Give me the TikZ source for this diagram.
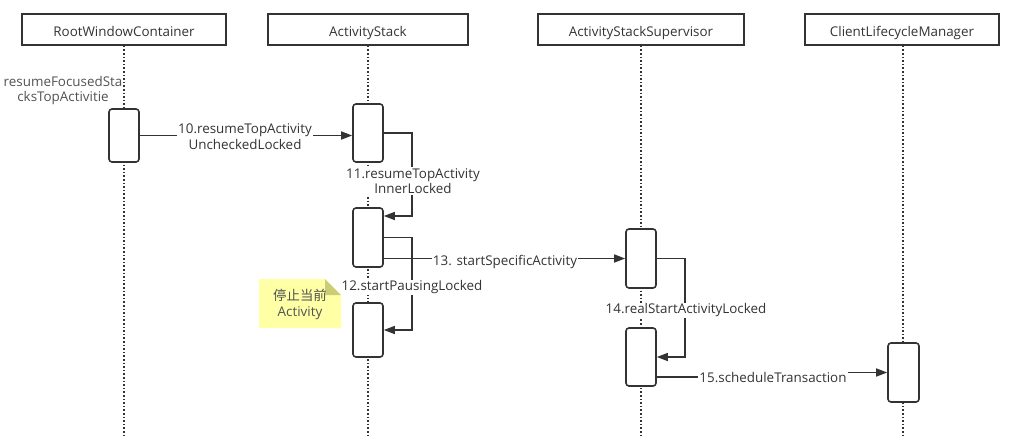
\documentclass[tikz,border=0pt]{standalone}
\usepackage{fontspec}
\setmainfont{Open Sans}
\newfontfamily\cjk{Noto Sans CJK SC}
\usetikzlibrary{arrows.meta}
\definecolor{ink}{HTML}{333333}
\definecolor{notefill}{HTML}{FFFFA6}
\definecolor{notefold}{HTML}{CCCC77}
\tikzset{
  header/.style={draw=ink, line width=1.6pt, minimum width=#1, minimum height=31pt, inner sep=0pt, font=\fontsize{13.4}{15}\selectfont, text=ink, text height=13.5pt, text depth=0pt},
  actbox/.style={draw=ink, fill=white, line width=1.6pt, rounded corners=3pt, minimum width=30pt, minimum height=#1, inner sep=0pt},
  lifeline/.style={draw=ink, line width=1.6pt, dash pattern=on 1.6pt off 2pt},
  msg/.style={draw=ink, line width=1.5pt, -{Triangle[length=11pt,width=8pt]}},
  plain/.style={draw=ink, line width=1.5pt},
  lbl/.style={fill=white, inner sep=1pt, text=ink, align=center, font=\fontsize{13.4}{15.5}\selectfont},
  notetext/.style={text=ink!85, align=center, font=\fontsize{13.4}{15.5}\selectfont}
}
\begin{document}
\begin{tikzpicture}[x=1pt,y=-1pt]
\useasboundingbox (0,0) rectangle (1027,442);
% headers
\node[header=204pt] (h1) at (124,29.5) {RootWindowContainer};
\node[header=200pt] (h2) at (368,29.5) {ActivityStack};
\node[header=206pt] (h3) at (641,29.5) {ActivityStackSupervisor};
\node[header=194pt] (h4) at (902,29.5) {ClientLifecycleManager};
% lifeline ends
\coordinate (e1) at (124,437);
\coordinate (e2) at (368,437);
\coordinate (e3) at (641,437);
\coordinate (e4) at (903,437);
\draw[lifeline] (h1.south) -- (e1);
\draw[lifeline] (h2.south) -- (e2);
\draw[lifeline] (h3.south) -- (e3);
\draw[lifeline] (h4.south -| e4) -- (e4);
% activation boxes
\node[actbox=53pt] (a1) at (124,135.5) {};
\node[actbox=58pt] (b1) at (368,133) {};
\node[actbox=59pt] (b2) at (368,237.5) {};
\node[actbox=54pt] (b3) at (368,330) {};
\node[actbox=59pt] (c1) at (641,258.5) {};
\node[actbox=58pt] (c2) at (641,357) {};
\node[actbox=59pt, minimum width=31pt] (d1) at (903.5,372.5) {};
% note
\node[notetext] (rl) at (63,90.5) {resumeFocusedSta\\cksTopActivitie};
\fill[notefill] (259,279) -- (325,279) -- (341,295) -- (341,328) -- (259,328) -- cycle;
\fill[notefold] (325,279) -- (341,295) -- (325,295) -- cycle;
\node[notetext] (nt) at (300,304.5) {{\cjk 停止当前}\\Activity};
% 10
\draw[msg] (a1.east) -- (a1.east -| b1.west);
\node[lbl] (l10) at (245,136.5) {10.resumeTopActivity\\UncheckedLocked};
% 11
\coordinate (k11) at (412,216);
\draw[msg] (b1.east) -| (k11) -- (k11 -| b2.east);
\node[lbl] (l11) at (413,181) {11.resumeTopActivity\\InnerLocked};
% 12
\coordinate (k12) at (412,330);
\draw[msg] (b2.east) -| (k12) -- (k12 -| b3.east);
\node[lbl] (l12) at (412,287.5) {12.startPausingLocked};
% 13
\draw[msg] ([yshift=-21pt]b2.east) -- (c1.west);
\node[lbl] (l13) at (505,261.5) {13. startSpecificActivity};
% 14
\coordinate (k14) at (685,357);
\draw[msg] (c1.east) -| (k14) -- (c2.east);
\node[lbl] (l14) at (686,310.5) {14.realStartActivityLocked};
% 15
\node[lbl] (l15) at (773,377) {15.scheduleTransaction};
\coordinate (c2s) at ([yshift=-20pt]c2.east);
\draw[plain] (c2s) -- (c2s -| l15.west);
\draw[msg] (l15.east |- d1.west) -- (d1.west);
\end{tikzpicture}
\end{document}
